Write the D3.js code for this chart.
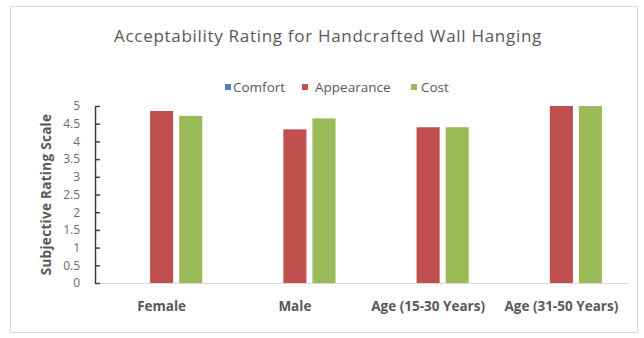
<!DOCTYPE html>
<html>
<head>
<meta charset="utf-8">
<script src="https://cdn.jsdelivr.net/npm/d3@7"></script>
<style>
  html, body { margin: 0; padding: 0; background: #fff; }
  svg { display: block; }
  text { font-family: "Open Sans", "Liberation Sans", sans-serif; }
</style>
</head>
<body>
<script>
// Rating data per respondent group
const categories = ["Female", "Male", "Age (15-30 Years)", "Age (31-50 Years)"];
const seriesNames = ["Comfort", "Appearance", "Cost"];
const comfort = [0, 0, 0, 0];
const appearance = [4.86, 4.34, 4.40, 5.0];
const cost = [4.72, 4.65, 4.40, 5.0];
const yTicks = [0, 0.5, 1, 1.5, 2, 2.5, 3, 3.5, 4, 4.5, 5];
const colors = ["#4F81BD", "#C0504D", "#9BBB59"];

const W = 644, H = 338;
const margin = { left: 95, right: 16, top: 106, bottom: 55 };

const svg = d3.select("body").append("svg").attr("width", W).attr("height", H);

// chart frame
svg.append("rect")
  .attr("x", 10.5).attr("y", 6.5).attr("width", 627).attr("height", 326)
  .attr("fill", "#fff").attr("stroke", "#d9d9d9");

const x0 = d3.scaleBand().domain(categories)
  .range([margin.left, W - margin.right])
  .paddingInner(0.39).paddingOuter(0.195);
const x1 = d3.scaleBand().domain(seriesNames)
  .range([0, x0.bandwidth()]).paddingInner(0.207);
const y = d3.scaleLinear().domain([0, 5]).range([H - margin.bottom, margin.top]);

const seriesData = [comfort, appearance, cost];
const rows = categories.map((c, i) => ({
  cat: c,
  vals: seriesNames.map((s, j) => ({ s, v: seriesData[j][i], color: colors[j] }))
}));

// bars
const g = svg.append("g");
g.selectAll("g.grp").data(rows).join("g")
  .attr("class", "grp")
  .attr("transform", d => `translate(${x0(d.cat)},0)`)
  .selectAll("rect").data(d => d.vals).join("rect")
  .attr("x", d => x1(d.s))
  .attr("width", x1.bandwidth())
  .attr("y", d => y(d.v))
  .attr("height", d => y(0) - y(d.v))
  .attr("fill", d => d.color);

// x axis baseline and category labels
const xAxis = svg.append("g")
  .attr("transform", `translate(0,${y(0)})`)
  .call(d3.axisBottom(x0).tickSize(0).tickPadding(18));
xAxis.select(".domain").attr("stroke", "#d9d9d9");
xAxis.selectAll("text")
  .attr("fill", "#595959").attr("font-size", 13.5).attr("font-weight", "bold");

// y axis
const yAxis = svg.append("g")
  .attr("transform", `translate(${margin.left},0)`)
  .call(d3.axisLeft(y).tickValues(yTicks).tickFormat(d3.format("")).tickSizeInner(-5).tickSizeOuter(0).tickPadding(15));
yAxis.select(".domain").attr("stroke", "#404040").attr("stroke-width", 1.5);
yAxis.selectAll(".tick line").attr("stroke", "#404040").attr("stroke-width", 1.5);
yAxis.selectAll("text").attr("fill", "#6b6b6b").attr("font-size", 12);

// y axis title
svg.append("text")
  .attr("transform", `translate(51,${(y(0) + y(5)) / 2}) rotate(-90)`)
  .attr("text-anchor", "middle")
  .attr("fill", "#595959").attr("font-size", 13.5).attr("font-weight", "bold")
  .attr("letter-spacing", 0.3)
  .text("Subjective Rating Scale");

// chart title
svg.append("text")
  .attr("x", 328).attr("y", 42)
  .attr("text-anchor", "middle")
  .attr("fill", "#595959").attr("font-size", 17)
  .attr("letter-spacing", 0.7)
  .text("Acceptability Rating for Handcrafted Wall Hanging");

// legend
const legendX = [225, 302, 411];
const legendTextX = [233, 315, 421];
const leg = svg.append("g").selectAll("g").data(seriesNames).join("g");
leg.append("rect")
  .attr("x", (d, i) => legendX[i]).attr("y", 84).attr("width", 6).attr("height", 6)
  .attr("fill", (d, i) => colors[i]);
leg.append("text")
  .attr("x", (d, i) => legendTextX[i]).attr("y", 91.5)
  .attr("fill", "#595959").attr("font-size", 13.5)
  .text(d => d);
</script>
</body>
</html>
